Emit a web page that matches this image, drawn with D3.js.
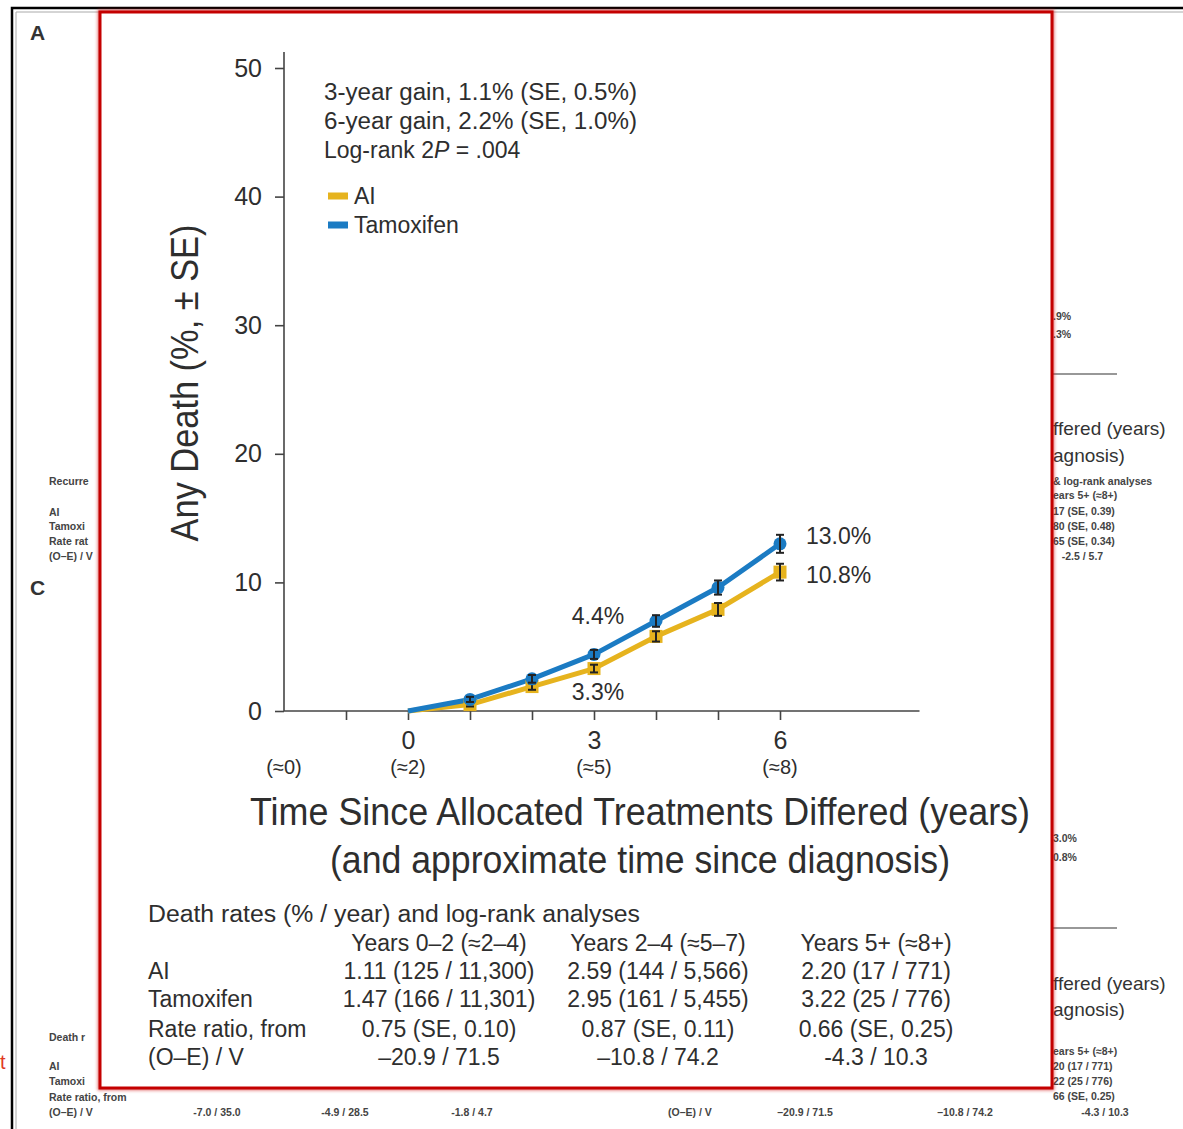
<!DOCTYPE html>
<html>
<head>
<meta charset="utf-8">
<script src="https://cdn.jsdelivr.net/npm/d3@7"></script>
<style>
  body { margin: 0; background: #fff; }
  svg { display: block; font-family: "Liberation Sans", Arial, sans-serif; }
</style>
</head>
<body>
<script>
// ---- data ----
var years = [0, 1, 2, 3, 4, 5, 6];
var aiValues = [0, 0.5, 1.9, 3.3, 5.8, 7.9, 10.8];
var aiSE = [0, 0.15, 0.25, 0.3, 0.4, 0.5, 0.65];
var tamValues = [0, 0.9, 2.5, 4.4, 7.0, 9.6, 13.0];
var tamSE = [0, 0.2, 0.3, 0.35, 0.45, 0.55, 0.7];

var yTicks = [0, 10, 20, 30, 40, 50];
var xTicks = [-1, 0, 1, 2, 3, 4, 5, 6];
var xLabelYears = [0, 3, 6];
var approxYears = [-2, 0, 3, 6];
var approxText = ["(≈0)", "(≈2)", "(≈5)", "(≈8)"];

var statLines = ["3-year gain, 1.1% (SE, 0.5%)", "6-year gain, 2.2% (SE, 1.0%)"];
var seriesNames = ["AI", "Tamoxifen"];
var seriesColors = ["#e6b31e", "#1b7bc3"];

var tableTitle = "Death rates (% / year) and log-rank analyses";
var tableCols = ["Years 0–2 (≈2–4)", "Years 2–4 (≈5–7)", "Years 5+ (≈8+)"];
var tableRowLabels = ["AI", "Tamoxifen", "Rate ratio, from", "(O–E) / V"];
var tableCells = [
  ["1.11 (125 / 11,300)", "2.59 (144 / 5,566)", "2.20 (17 / 771)"],
  ["1.47 (166 / 11,301)", "2.95 (161 / 5,455)", "3.22 (25 / 776)"],
  ["0.75 (SE, 0.10)", "0.87 (SE, 0.11)", "0.66 (SE, 0.25)"],
  ["–20.9 / 71.5", "–10.8 / 74.2", "-4.3 / 10.3"]
];

var width = 1183, height = 1129;
var ink = "#2e2e2e";

var svg = d3.select("body").append("svg")
  .attr("width", width)
  .attr("height", height);

var back = svg.append("g");
var popup = svg.append("g");

// ---- background page (mostly hidden behind the popup) ----
back.append("path")
  .attr("d", "M12,1129V8H1183")
  .attr("fill", "none").attr("stroke", "#000").attr("stroke-width", 2.5);
back.append("path")
  .attr("d", "M16,1129V12H1183")
  .attr("fill", "none").attr("stroke", "#aaa").attr("stroke-width", 1);
back.append("text").attr("x", 30).attr("y", 40).text("A")
  .attr("font-size", 21).attr("font-weight", "bold").attr("fill", "#333");
back.append("text").attr("x", 30).attr("y", 595).text("C")
  .attr("font-size", 21).attr("font-weight", "bold").attr("fill", "#333");
back.append("text").attr("x", 0).attr("y", 1069).text("t")
  .attr("font-size", 20).attr("fill", "#e03a1e");

var smallLeft = [
  ["Recurre", 481], ["AI", 512], ["Tamoxi", 526], ["Rate rat", 541], ["(O–E) / V", 556],
  ["Death r", 1037], ["AI", 1066], ["Tamoxi", 1081], ["Rate ratio, from", 1097], ["(O–E) / V", 1112]
];
back.selectAll(".sl").data(smallLeft).enter().append("text")
  .attr("x", 49).attr("y", d => d[1]).attr("dy", "0.35em")
  .attr("font-size", 10.5).attr("font-weight", "bold").attr("fill", "#444")
  .text(d => d[0]);

var smallBottom = [["-7.0 / 35.0", 217], ["-4.9 / 28.5", 345], ["-1.8 / 4.7", 472],
  ["(O–E) / V", 690], ["–20.9 / 71.5", 805], ["–10.8 / 74.2", 965], ["-4.3 / 10.3", 1105]];
back.selectAll(".sb").data(smallBottom).enter().append("text")
  .attr("x", d => d[1]).attr("y", 1112).attr("dy", "0.35em")
  .attr("text-anchor", "middle")
  .attr("font-size", 10.5).attr("font-weight", "bold").attr("fill", "#444")
  .text(d => d[0]);

var smallRight = [
  [".9%", 316], [".3%", 334],
  ["& log-rank analyses", 481], ["ears 5+ (≈8+)", 495], ["17 (SE, 0.39)", 511],
  ["80 (SE, 0.48)", 526], ["65 (SE, 0.34)", 541], ["   -2.5 / 5.7", 556],
  ["3.0%", 838], ["0.8%", 857],
  ["ears 5+ (≈8+)", 1051], ["20 (17 / 771)", 1066], ["22 (25 / 776)", 1081],
  ["66 (SE, 0.25)", 1096]
];
back.selectAll(".sr").data(smallRight).enter().append("text")
  .attr("x", 1053).attr("y", d => d[1]).attr("dy", "0.35em")
  .attr("font-size", 10.5).attr("font-weight", "bold").attr("fill", "#444")
  .attr("xml:space", "preserve")
  .text(d => d[0]);

var bigRight = [["ffered (years)", 428], ["agnosis)", 455], ["ffered (years)", 983], ["agnosis)", 1009]];
back.selectAll(".br").data(bigRight).enter().append("text")
  .attr("x", 1053).attr("y", d => d[1]).attr("dy", "0.35em")
  .attr("font-size", 19).attr("fill", "#333")
  .text(d => d[0]);
[374, 928].forEach(function(yy) {
  back.append("line").attr("x1", 1050).attr("x2", 1117).attr("y1", yy).attr("y2", yy)
    .attr("stroke", "#333").attr("stroke-width", 1.2);
});
[150, 205].forEach(function(xx) {
  back.append("line").attr("x1", xx).attr("x2", xx).attr("y1", 12).attr("y2", 16)
    .attr("stroke", "#555").attr("stroke-width", 1.5);
});

// ---- popup box ----
var defs = svg.append("defs");
var f = defs.append("filter").attr("id", "glow").attr("x", "-5%").attr("y", "-5%")
  .attr("width", "110%").attr("height", "110%");
f.append("feGaussianBlur").attr("in", "SourceGraphic").attr("stdDeviation", 1.5);

popup.append("rect")
  .attr("x", 100).attr("y", 12).attr("width", 952).attr("height", 1076)
  .attr("fill", "none").attr("stroke", "#d42020").attr("stroke-width", 5)
  .attr("filter", "url(#glow)").attr("opacity", 0.6);
popup.append("rect")
  .attr("x", 100).attr("y", 12).attr("width", 952).attr("height", 1076)
  .attr("fill", "#fff").attr("stroke", "#c40000").attr("stroke-width", 3);

// ---- scales ----
var x = d3.scaleLinear().domain([0, 6]).range([408, 780]);
var y = d3.scaleLinear().domain([0, 50]).range([711, 68]);

var chart = popup.append("g");

// y axis
var yAxis = chart.append("g")
  .attr("transform", "translate(" + x(-2) + ",0)")
  .call(d3.axisLeft(y).tickValues(yTicks).tickSize(9).tickPadding(13).tickSizeOuter(0));
yAxis.select(".domain").remove();
yAxis.selectAll("line").attr("stroke", "#444").attr("stroke-width", 1.6);
yAxis.selectAll("text").attr("font-size", 25).attr("fill", ink)
  .attr("font-family", "Liberation Sans, Arial, sans-serif");
chart.append("line")
  .attr("x1", x(-2)).attr("x2", x(-2)).attr("y1", y(0)).attr("y2", y(51.25))
  .attr("stroke", "#444").attr("stroke-width", 1.6);

// x axis
var xAxis = chart.append("g")
  .attr("transform", "translate(0," + y(0) + ")")
  .call(d3.axisBottom(x).tickValues(xTicks).tickSize(9).tickPadding(11).tickSizeOuter(0)
    .tickFormat(d => xLabelYears.indexOf(d) >= 0 ? d : ""));
xAxis.select(".domain").remove();
xAxis.selectAll("line").attr("stroke", "#444").attr("stroke-width", 1.6);
xAxis.selectAll("text").attr("font-size", 25).attr("fill", ink)
  .attr("font-family", "Liberation Sans, Arial, sans-serif");
chart.append("line")
  .attr("x1", x(-2)).attr("x2", x(8.25)).attr("y1", y(0)).attr("y2", y(0))
  .attr("stroke", "#444").attr("stroke-width", 1.6);

chart.selectAll(".approx").data(approxYears).enter().append("text")
  .attr("x", d => x(d)).attr("y", 767).attr("dy", "0.35em")
  .attr("text-anchor", "middle").attr("font-size", 20).attr("fill", ink)
  .text((d, i) => approxText[i]);

// axis titles
chart.append("text")
  .attr("x", 640).attr("y", 812).attr("dy", "0.35em")
  .attr("text-anchor", "middle").attr("font-size", 38).attr("fill", ink)
  .attr("textLength", 780).attr("lengthAdjust", "spacingAndGlyphs")
  .text("Time Since Allocated Treatments Differed (years)");
chart.append("text")
  .attr("x", 640).attr("y", 860).attr("dy", "0.35em")
  .attr("text-anchor", "middle").attr("font-size", 38).attr("fill", ink)
  .attr("textLength", 620).attr("lengthAdjust", "spacingAndGlyphs")
  .text("(and approximate time since diagnosis)");
chart.append("text")
  .attr("transform", "translate(185,383) rotate(-90)")
  .attr("dy", "0.35em")
  .attr("text-anchor", "middle").attr("font-size", 38).attr("fill", ink)
  .attr("textLength", 317).attr("lengthAdjust", "spacingAndGlyphs")
  .text("Any Death (%, ± SE)");

// stats text
chart.selectAll(".stat").data(statLines).enter().append("text")
  .attr("x", 324).attr("y", (d, i) => 92 + i * 29).attr("dy", "0.35em")
  .attr("font-size", 23).attr("fill", ink)
  .attr("textLength", 313).attr("lengthAdjust", "spacingAndGlyphs")
  .text(d => d);
var lr = chart.append("text")
  .attr("x", 324).attr("y", 150).attr("dy", "0.35em")
  .attr("font-size", 23).attr("fill", ink);
lr.append("tspan").text("Log-rank 2");
lr.append("tspan").attr("font-style", "italic").text("P");
lr.append("tspan").text(" = .004");

// legend
var leg = chart.selectAll(".leg").data(seriesNames).enter().append("g")
  .attr("transform", (d, i) => "translate(328," + (196 + i * 29) + ")");
leg.append("rect").attr("x", 0).attr("y", -3.5).attr("width", 20).attr("height", 7)
  .attr("fill", (d, i) => seriesColors[i]);
leg.append("text").attr("x", 26).attr("dy", "0.35em")
  .attr("font-size", 23).attr("fill", ink).text(d => d);

// lines
var series = [
  { name: "AI", values: aiValues, se: aiSE, color: seriesColors[0] },
  { name: "Tamoxifen", values: tamValues, se: tamSE, color: seriesColors[1] }
];
var line = d3.line().x((d, i) => x(years[i])).y(d => y(d));

series.forEach(function(s) {
  chart.append("path").datum(s.values)
    .attr("d", line).attr("fill", "none")
    .attr("stroke", s.color).attr("stroke-width", 5)
    .attr("stroke-linejoin", "round");
});

series.forEach(function(s, si) {
  var pts = years.map((yr, i) => ({ yr: yr, v: s.values[i], se: s.se[i] })).filter(d => d.yr > 0);
  if (si === 0) {
    chart.selectAll(".mk" + si).data(pts).enter().append("rect")
      .attr("x", d => x(d.yr) - 6.5).attr("y", d => y(d.v) - 6.5)
      .attr("width", 13).attr("height", 13).attr("fill", s.color);
  } else {
    chart.selectAll(".mk" + si).data(pts).enter().append("circle")
      .attr("cx", d => x(d.yr)).attr("cy", d => y(d.v)).attr("r", 6.5)
      .attr("fill", s.color);
  }
  var eb = chart.selectAll(".eb" + si).data(pts).enter().append("g")
    .attr("stroke", "#222").attr("stroke-width", 2);
  eb.append("line").attr("x1", d => x(d.yr)).attr("x2", d => x(d.yr))
    .attr("y1", d => y(d.v - d.se)).attr("y2", d => y(d.v + d.se));
  eb.append("line").attr("x1", d => x(d.yr) - 4).attr("x2", d => x(d.yr) + 4)
    .attr("y1", d => y(d.v - d.se)).attr("y2", d => y(d.v - d.se));
  eb.append("line").attr("x1", d => x(d.yr) - 4).attr("x2", d => x(d.yr) + 4)
    .attr("y1", d => y(d.v + d.se)).attr("y2", d => y(d.v + d.se));
});

// end-point labels
chart.append("text").attr("x", x(3) + 4).attr("y", y(tamValues[3]) - 38).attr("dy", "0.35em")
  .attr("text-anchor", "middle").attr("font-size", 23).attr("fill", ink)
  .text(tamValues[3].toFixed(1) + "%");
chart.append("text").attr("x", x(3) + 4).attr("y", y(aiValues[3]) + 23).attr("dy", "0.35em")
  .attr("text-anchor", "middle").attr("font-size", 23).attr("fill", ink)
  .text(aiValues[3].toFixed(1) + "%");
chart.append("text").attr("x", x(6) + 26).attr("y", y(tamValues[6]) - 8).attr("dy", "0.35em")
  .attr("font-size", 23).attr("fill", ink)
  .text(tamValues[6].toFixed(1) + "%");
chart.append("text").attr("x", x(6) + 26).attr("y", y(aiValues[6]) + 3).attr("dy", "0.35em")
  .attr("font-size", 23).attr("fill", ink)
  .text(aiValues[6].toFixed(1) + "%");

// table
var colX = [439, 658, 876];
var rowY = [971, 999, 1029, 1057];
var tbl = popup.append("g").attr("font-size", 23).attr("fill", ink);
tbl.append("text").attr("x", 148).attr("y", 914).attr("dy", "0.35em")
  .attr("textLength", 492).attr("lengthAdjust", "spacingAndGlyphs")
  .text(tableTitle);
tbl.selectAll(".ch").data(tableCols).enter().append("text")
  .attr("x", (d, i) => colX[i]).attr("y", 943).attr("dy", "0.35em")
  .attr("text-anchor", "middle").text(d => d);
tbl.selectAll(".rl").data(tableRowLabels).enter().append("text")
  .attr("x", 148).attr("y", (d, i) => rowY[i]).attr("dy", "0.35em")
  .text(d => d);
tableCells.forEach(function(row, ri) {
  tbl.selectAll(".c" + ri).data(row).enter().append("text")
    .attr("x", (d, i) => colX[i]).attr("y", rowY[ri]).attr("dy", "0.35em")
    .attr("text-anchor", "middle").text(d => d);
});
</script>
</body>
</html>
